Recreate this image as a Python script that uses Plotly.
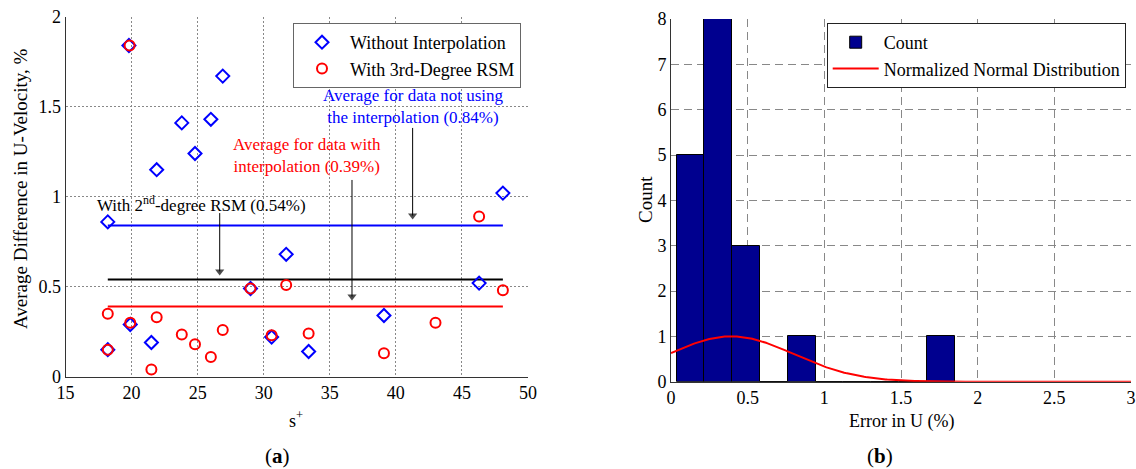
import numpy as np
import plotly.graph_objects as go

# ---------------- data (a) ----------------
s_blue = [19.8, 26.9, 26.0, 23.8, 24.8, 21.9, 18.2, 31.7, 29.0, 19.9, 18.2, 21.5, 30.6, 33.4, 48.1, 46.3, 39.1]
v_blue = [1.84, 1.67, 1.43, 1.41, 1.24, 1.15, 0.86, 0.68, 0.49, 0.29, 0.15, 0.19, 0.22, 0.14, 1.02, 0.52, 0.34]
s_red = [19.85, 18.2, 19.9, 21.9, 18.2, 21.5, 23.8, 24.8, 26.0, 26.9, 29.0, 31.7, 30.6, 33.4, 46.3, 48.1, 43.0, 39.1]
v_red = [1.84, 0.35, 0.30, 0.33, 0.15, 0.04, 0.235, 0.18, 0.11, 0.26, 0.49, 0.51, 0.23, 0.24, 0.89, 0.48, 0.30, 0.13]
avg_no_interp = 0.84
avg_2nd_rsm = 0.54
avg_3rd_rsm = 0.39
avg_line_s = [18.2, 48.1]

# label arrows: (s+, from value, to value)
arrow_s = [41.27, 36.68, 26.67]
arrow_from = [1.382, 1.093, 0.909]
arrow_to = [0.895, 0.445, 0.585]

# ---------------- data (b) ----------------
hist_counts = [5, 8, 3, 0, 1, 0, 0, 0, 0, 1]
hist_lo, hist_hi = 0.037, 1.85

SERIF = "Liberation Serif"
BLUE = "#0000FF"
RED = "#FF0000"

fig = go.Figure()

# average lines
fig.add_trace(go.Scatter(x=avg_line_s, y=[avg_no_interp] * 2, mode="lines",
                         line=dict(color=BLUE, width=2), showlegend=False,
                         xaxis="x", yaxis="y"))
fig.add_trace(go.Scatter(x=avg_line_s, y=[avg_2nd_rsm] * 2, mode="lines",
                         line=dict(color="black", width=2), showlegend=False,
                         xaxis="x", yaxis="y"))
fig.add_trace(go.Scatter(x=avg_line_s, y=[avg_3rd_rsm] * 2, mode="lines",
                         line=dict(color=RED, width=2), showlegend=False,
                         xaxis="x", yaxis="y"))

# arrows (line + triangular head)
for xa, y0, y1 in zip(arrow_s, arrow_from, arrow_to):
    fig.add_trace(go.Scatter(x=[xa, xa], y=[y0, y1], mode="lines+markers",
                             line=dict(color="black", width=1),
                             marker=dict(symbol="triangle-down", size=[0, 8], color="black",
                                         line=dict(width=0)),
                             showlegend=False, hoverinfo="skip", xaxis="x", yaxis="y"))

fig.add_trace(go.Scatter(x=s_blue, y=v_blue, mode="markers", name="Without Interpolation",
                         marker=dict(symbol="diamond-open", size=10, color=BLUE,
                                     line=dict(width=2, color=BLUE)),
                         xaxis="x", yaxis="y", legend="legend"))
fig.add_trace(go.Scatter(x=s_red, y=v_red, mode="markers", name="With 3rd-Degree RSM",
                         marker=dict(symbol="circle-open", size=10, color=RED,
                                     line=dict(width=2, color=RED)),
                         xaxis="x", yaxis="y", legend="legend"))

# histogram (b)
edges = np.linspace(hist_lo, hist_hi, len(hist_counts) + 1)
centers = (edges[:-1] + edges[1:]) / 2
width = edges[1] - edges[0]
fig.add_trace(go.Bar(x=centers, y=hist_counts, width=width, name="Count",
                     marker=dict(color="#00008F", line=dict(color="black", width=1)),
                     xaxis="x2", yaxis="y2", legend="legend2"))

mu = float(np.mean(v_red))
sigma = float(np.std(v_red, ddof=1))
xc = np.linspace(0, 3, 301)
yc = np.exp(-(xc - mu) ** 2 / (2 * sigma ** 2))
fig.add_trace(go.Scatter(x=xc, y=yc, mode="lines", name="Normalized Normal Distribution",
                         line=dict(color=RED, width=2),
                         xaxis="x2", yaxis="y2", legend="legend2"))

W, H = 1136, 469
def px(x):
    return x / W
def py(y):
    return 1 - y / H

axis_common = dict(showline=True, linecolor="#333", linewidth=1, zeroline=False,
                   ticks="", tickfont=dict(family=SERIF, size=18, color="black"),
                   showgrid=True, gridcolor="#888", gridwidth=1, automargin=False)

fig.update_layout(
    width=W, height=H,
    margin=dict(l=0, r=0, t=0, b=0, pad=0, autoexpand=False),
    paper_bgcolor="white", plot_bgcolor="white",
    font=dict(family=SERIF, size=16, color="black"),
    xaxis=dict(domain=[px(65.5), px(528)], range=[15, 50], tickvals=[15, 20, 25, 30, 35, 40, 45, 50],
               griddash="2px,2px", anchor="y", **axis_common),
    yaxis=dict(domain=[py(376.7), py(16.7)], range=[0, 2], tickvals=[0, 0.5, 1, 1.5, 2],
               griddash="2px,2px", anchor="x", **axis_common),
    xaxis2=dict(domain=[px(671), px(1131)], range=[0, 3], tickvals=[0, 0.5, 1, 1.5, 2, 2.5, 3],
                griddash="8px,5px", anchor="y2", **axis_common),
    yaxis2=dict(domain=[py(381.7), py(19)], range=[0, 8], tickvals=list(range(9)),
                griddash="8px,5px", anchor="x2", **axis_common),
    bargap=0,
    legend=dict(x=px(293), y=py(23), xanchor="left", yanchor="top",
                bgcolor="white", bordercolor="#666", borderwidth=1, itemwidth=46,
                font=dict(family=SERIF, size=18), tracegroupgap=0),
    legend2=dict(x=px(826.7), y=py(23), xanchor="left", yanchor="top",
                 bgcolor="white", bordercolor="#222", borderwidth=1, itemwidth=46,
                 font=dict(family=SERIF, size=18), tracegroupgap=0),
)

ann = []
def pann(text, x, y, size, angle=0, color="black"):
    ann.append(dict(text=text, x=px(x), y=py(y), xref="paper", yref="paper",
                    xanchor="center", yanchor="middle", textangle=angle, showarrow=False,
                    font=dict(family=SERIF, size=size, color=color)))

# axis titles / captions
pann("Average Difference in U-Velocity, %", 20, 189, 19, angle=-90)
pann("s<sup>+</sup>", 296, 419, 18)
pann("(<b>a</b>)", 277, 456, 21)
pann("Count", 645, 200, 19, angle=-90)
pann("Error in U (%)", 901, 421, 18)
pann("(<b>b</b>)", 880, 456, 21)

# in-plot labels
def dann(text, x, y, color):
    ann.append(dict(text=text, x=x, y=y, xref="x", yref="y", xanchor="center", yanchor="middle",
                    showarrow=False, font=dict(family=SERIF, size=17, color=color)))
dann("Average for data not using<br>the interpolation (0.84%)", 41.36, 1.5, BLUE)
dann("Average for data with<br>interpolation (0.39%)", 33.3, 1.228, RED)
dann("With 2<sup>nd</sup>-degree RSM (0.54%)", 25.27, 0.96, "black")

fig.update_layout(annotations=ann)
fig.write_html("out.html")
